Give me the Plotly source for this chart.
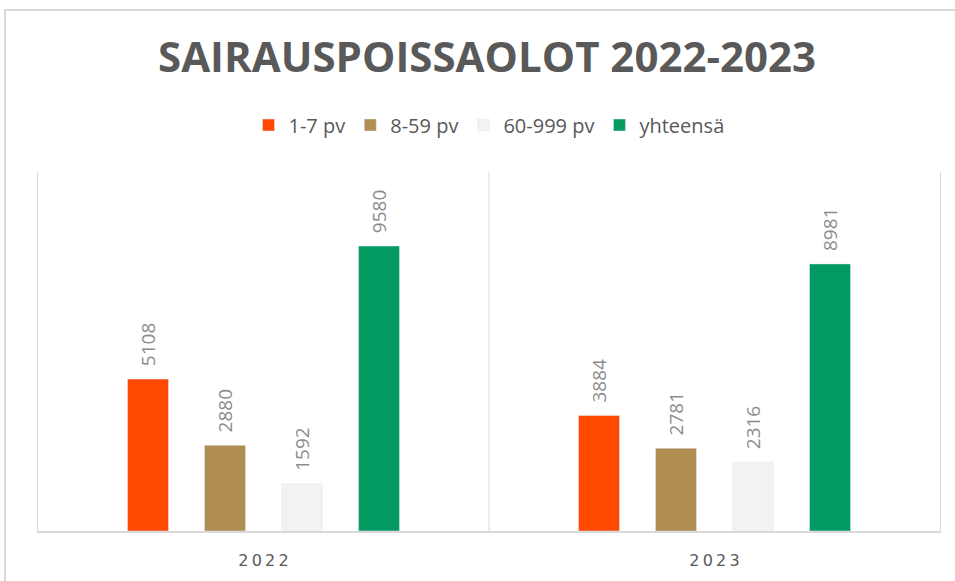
import plotly.graph_objects as go

years = ["2022", "2023"]
series_names = ["1-7 pv", "8-59 pv", "60-999 pv", "yhteensä"]
values = {
    "1-7 pv": [5108, 3884],
    "8-59 pv": [2880, 2781],
    "60-999 pv": [1592, 2316],
    "yhteensä": [9580, 8981],
}
colors = ["#FF4800", "#B08D50", "#F2F2F2", "#039A62"]

TS = "\u2009"
NB = "\u00a0"

def spaced(s):
    return TS.join(str(s))

fig = go.Figure()
for name, col in zip(series_names, colors):
    vals = values[name]
    fig.add_trace(go.Bar(
        x=years, y=vals, name=name, marker_color=col,
        text=[NB * 2 + str(v) for v in vals], textposition="outside", textangle=-90,
        constraintext="none",
        textfont=dict(family="Open Sans", size=19, color="#8C8C8C"),
        cliponaxis=False,
    ))

L, R, T, B = 38, 15, 172, 50
W, H = 955, 581
pw = W - L - R
ph = H - T - B

fig.update_layout(
    width=W, height=H,
    margin=dict(l=L, r=R, t=T, b=B),
    paper_bgcolor="white", plot_bgcolor="white",
    barmode="group", bargap=0.317, bargroupgap=0.468,
    title=dict(text="<b>SAIRAUSPOISSAOLOT 2022-2023</b>", x=487 / W, xanchor="center",
               y=1 - 57 / H, yanchor="middle",
               font=dict(family="Open Sans", size=42, color="#595959")),
    legend=dict(orientation="h", x=0.5, xanchor="center", y=1 + (T - 125) / ph, yanchor="middle",
                font=dict(family="Open Sans", size=20, color="#595959"),
                itemwidth=30, traceorder="normal"),
    showlegend=True,
    xaxis=dict(showline=True, linecolor="#D9D9D9", linewidth=2, ticks="",
               tickvals=years, ticktext=[spaced(y) for y in years],
               tickfont=dict(family="DejaVu Sans", size=16, color="#595959"),
               ticklabelstandoff=14,
               range=[-0.5, 1.5]),
    yaxis=dict(range=[0, 12070], showgrid=False, showticklabels=False, zeroline=False,
               showline=True, mirror=True, linecolor="#D9D9D9", linewidth=1, ticks=""),
    shapes=[
        dict(type="line", xref="x", yref="paper", x0=0.5, x1=0.5, y0=0, y1=1,
             line=dict(color="#D9D9D9", width=1)),
        dict(type="rect", xref="paper", yref="paper",
             x0=(5 - L) / pw, x1=(W + 10 - L) / pw,
             y0=-(H + 10 - T - ph) / ph, y1=1 + (T - 10) / ph,
             line=dict(color="#D9D9D9", width=2), fillcolor="rgba(0,0,0,0)"),
    ],
)

fig.write_html("out.html", config={"displayModeBar": False},
               post_script="document.body.style.margin='0px';")
